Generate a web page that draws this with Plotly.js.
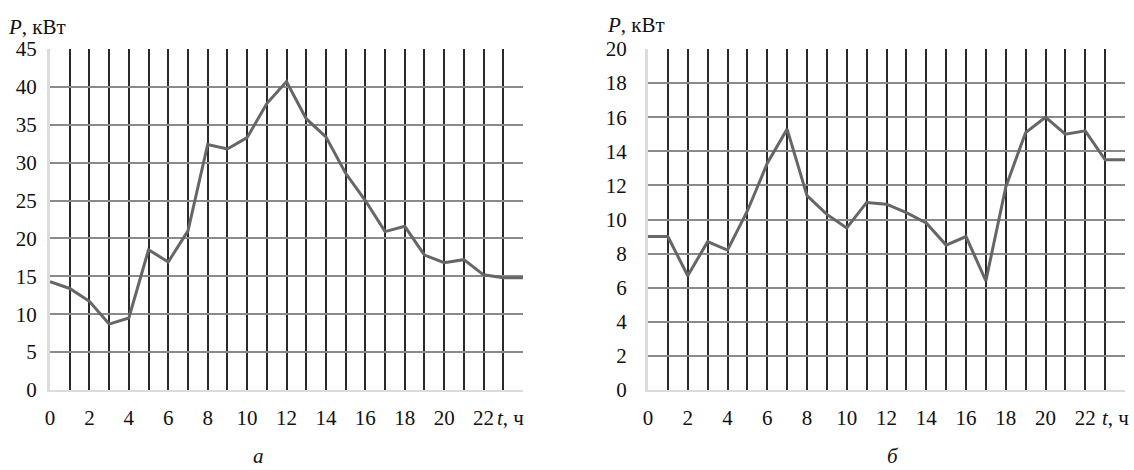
<!DOCTYPE html>
<html>
<head>
<meta charset="utf-8">
<script src="https://cdn.plot.ly/plotly-3.0.1.min.js"></script>
<style>html,body{margin:0;padding:0;background:#fff;}#chart{width:1134px;height:470px;}</style>
</head>
<body>
<div id="chart"></div>
<script>
// Hours
var hours = [0,1,2,3,4,5,6,7,8,9,10,11,12,13,14,15,16,17,18,19,20,21,22,23,24];
// Chart a: power, kW
var powerA = [14.3,13.4,11.7,8.7,9.5,18.5,16.9,21.0,32.4,31.8,33.3,37.8,40.7,35.8,33.4,28.6,25.0,20.9,21.6,17.8,16.8,17.2,15.2,14.8,14.8];
// Chart b: power, kW
var powerB = [9.0,9.0,6.7,8.7,8.2,10.5,13.3,15.3,11.4,10.3,9.5,11.0,10.9,10.4,9.8,8.5,9.0,6.4,11.9,15.1,16.0,15.0,15.2,13.5,13.5];
var xTickVals = hours;
var xTickText = ['0','','2','','4','','6','','8','','10','','12','','14','','16','','18','','20','','22','',''];
var yTicksA = [0,5,10,15,20,25,30,35,40,45];
var yTicksB = [0,2,4,6,8,10,12,14,16,18,20];

var W = 1134, H = 470;
var FAMILY = 'Liberation Serif';
function mkFont() { return {family: FAMILY, size: 21, color: '#111'}; }

var traces = [
  {x: hours, y: powerA, type: 'scatter', mode: 'lines', line: {color: '#666', width: 3}, xaxis: 'x', yaxis: 'y', hoverinfo: 'none'},
  {x: hours, y: powerB, type: 'scatter', mode: 'lines', line: {color: '#666', width: 3}, xaxis: 'x2', yaxis: 'y2', hoverinfo: 'none'}
];

function xax(d0, d1, anchor) {
  return {domain: [d0 / W, d1 / W], range: [0, 24], anchor: anchor, tickmode: 'array', tickvals: xTickVals, ticktext: xTickText,
    showgrid: true, gridcolor: '#2a2a2a', gridwidth: 2, zeroline: false,
    showline: true, linecolor: '#dcdcdc', linewidth: 2, ticks: '', ticklabelstandoff: 8,
    tickfont: mkFont(), fixedrange: true};
}
function yax(ticks, maxv, anchor, standoff) {
  return {domain: [1 - 390 / H, 1 - 49 / H], range: [0, maxv], anchor: anchor, tickmode: 'array', tickvals: ticks,
    ticktext: ticks.map(String),
    showgrid: true, gridcolor: '#8a8a8a', gridwidth: 2, zeroline: false,
    showline: true, linecolor: '#dcdcdc', linewidth: 3, ticks: '', ticklabelstandoff: standoff,
    tickfont: mkFont(), fixedrange: true};
}

function ann(text, px, py, anchor, yanchor) {
  return {text: text, xref: 'paper', yref: 'paper', x: px / W, y: 1 - py / H, xanchor: anchor, yanchor: yanchor || 'middle',
    showarrow: false, font: mkFont()};
}

var layout = {
  width: W, height: H,
  margin: {l: 0, r: 0, t: 0, b: 0},
  paper_bgcolor: '#fff', plot_bgcolor: '#fff',
  showlegend: false,
  font: mkFont(),
  xaxis: xax(50, 523, 'y'),
  yaxis: yax(yTicksA, 45, 'x', 6),
  xaxis2: xax(648, 1125, 'y2'),
  yaxis2: yax(yTicksB, 20, 'x2', 14),
  annotations: [
    ann('<i>P</i>, кВт', 6, 27, 'left'),
    ann('<i>P</i>, кВт', 605, 25, 'left'),
    ann('<i>t</i>, ч', 495, 418, 'left'),
    ann('<i>t</i>, ч', 1100, 418, 'left'),
    ann('<i>а</i>', 258, 470, 'center', 'bottom'),
    ann('<i>б</i>', 893, 470, 'center', 'bottom')
  ]
};

Plotly.newPlot('chart', traces, layout, {displayModeBar: false, staticPlot: true});
</script>
</body>
</html>
